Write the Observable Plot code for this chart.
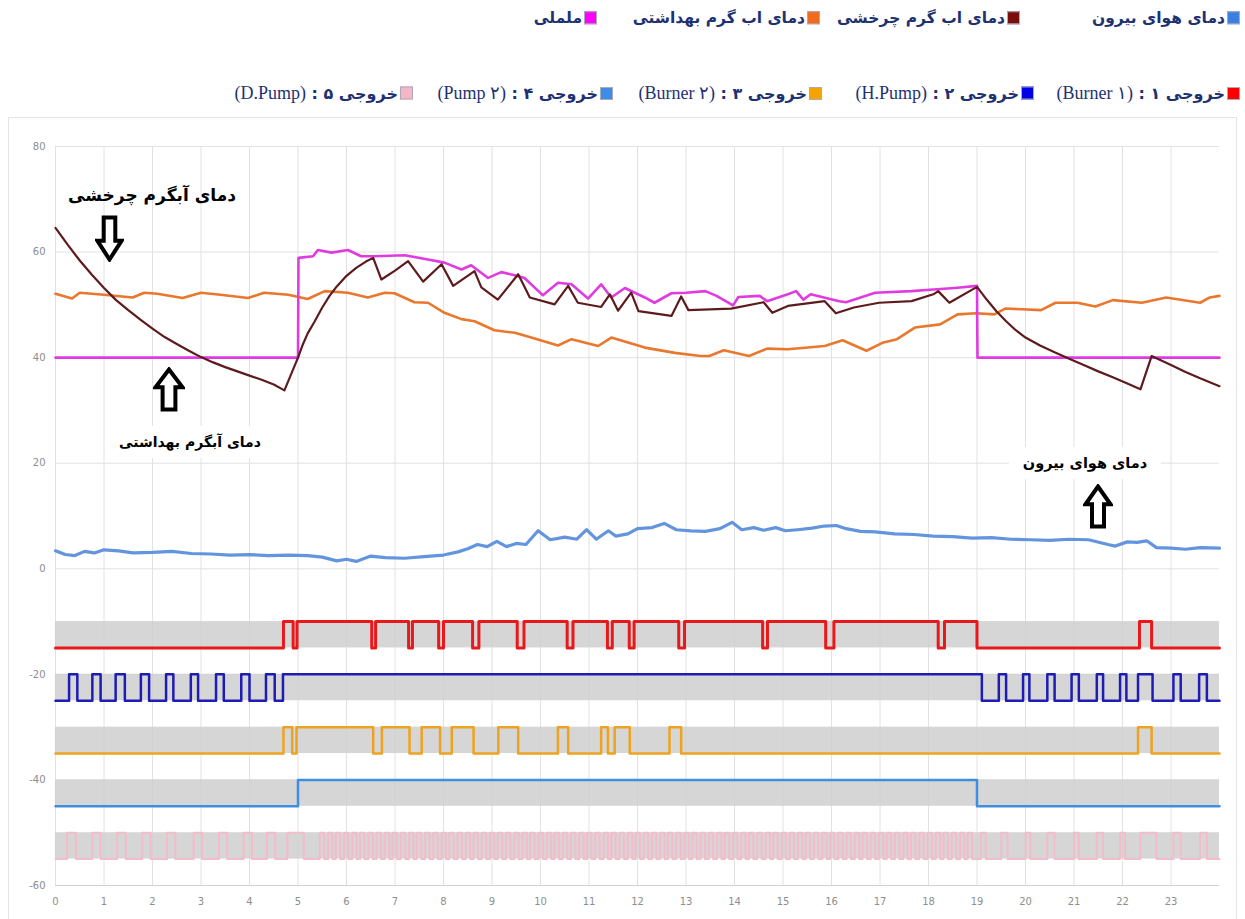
<!DOCTYPE html>
<html>
<head>
<meta charset="utf-8">
<script src="https://cdn.jsdelivr.net/npm/d3@7"></script>
<script src="https://cdn.jsdelivr.net/npm/@observablehq/plot@0.6"></script>
<style>
  html, body { margin: 0; padding: 0; background: #fff; }
  #page { position: relative; width: 1245px; height: 919px; overflow: hidden; background: #fff; }
  #frame { position: absolute; left: 8px; top: 117px; width: 1229px; height: 820px; border: 1px solid #e4e4e4; box-sizing: border-box; }
  #chart { position: absolute; left: 0; top: 118px; }
  .lg { position: absolute; direction: rtl; white-space: nowrap; font: bold 15.5px "DejaVu Sans", sans-serif; color: #1e3272; transform: translateY(-50%); line-height: 1; }
  .lg2 { font-size: 16px; }
  .sq { display: inline-block; width: 11px; height: 11px; border: 1px solid #aab; margin-left: 2px; vertical-align: -1px; }
  .lat { font: 18px "Liberation Serif", "DejaVu Serif", serif; color: #1e3272; direction: ltr; unicode-bidi: isolate; }
  .ann { position: absolute; direction: rtl; white-space: nowrap; font: bold 16px "DejaVu Sans", sans-serif; color: #000; transform: translate(-50%, -50%); }
  .box { background: #fff; padding: 8px 14px; }
  .arrow { position: absolute; }
</style>
</head>
<body>
<div id="page">
  <div id="frame"></div>
  <div id="chart"></div>
</div>
<script>
// ---------- data ----------
const xTicks = [0,1,2,3,4,5,6,7,8,9,10,11,12,13,14,15,16,17,18,19,20,21,22,23];
const yTicks = [80,60,40,20,0,-20,-40,-60];
const xDomain = [0, 24];
const yDomain = [-60, 80];

// outside air temperature (blue)
const outsideTemp = [[0,3.4],[0.2,2.7],[0.4,2.5],[0.6,3.3],[0.8,3.0],[1.0,3.6],[1.3,3.4],[1.6,3.0],[2.0,3.1],[2.4,3.3],[2.8,2.9],[3.2,2.8],[3.6,2.6],[4.0,2.7],[4.4,2.5],[4.8,2.6],[5.2,2.5],[5.5,2.2],[5.8,1.5],[6.0,1.8],[6.2,1.4],[6.5,2.4],[6.8,2.1],[7.2,2.0],[7.6,2.3],[8.0,2.6],[8.3,3.2],[8.5,3.8],[8.7,4.6],[8.9,4.2],[9.1,5.2],[9.3,4.2],[9.5,4.8],[9.7,4.6],[9.95,7.2],[10.2,5.5],[10.5,6.0],[10.75,5.6],[10.95,7.4],[11.15,5.6],[11.4,7.2],[11.55,6.2],[11.8,6.6],[12.0,7.6],[12.3,7.8],[12.55,8.6],[12.8,7.4],[13.1,7.2],[13.4,7.1],[13.7,7.6],[13.95,8.8],[14.15,7.4],[14.4,7.8],[14.6,7.3],[14.85,7.8],[15.05,7.2],[15.3,7.4],[15.6,7.7],[15.85,8.1],[16.1,8.2],[16.3,7.6],[16.6,7.1],[16.9,7.0],[17.3,6.6],[17.7,6.5],[18.1,6.2],[18.5,6.1],[18.9,5.8],[19.3,5.9],[19.7,5.6],[20.1,5.5],[20.5,5.4],[20.9,5.6],[21.3,5.5],[21.7,4.6],[21.85,4.3],[22.1,5.1],[22.3,5.0],[22.5,5.3],[22.7,4.0],[23.0,3.9],[23.3,3.7],[23.6,4.0],[24,3.9]];

// circulating hot water temperature (dark red)
const circTemp = [[0,64.6],[0.25,61.4],[0.5,58.4],[0.75,55.7],[1.0,53.2],[1.25,50.9],[1.5,49.0],[1.75,47.2],[2.0,45.5],[2.25,43.9],[2.5,42.6],[2.75,41.3],[3.0,40.1],[3.25,39.1],[3.5,38.2],[3.75,37.4],[4.0,36.6],[4.25,35.8],[4.5,34.9],[4.72,33.8],[5.0,40.0],[5.1,42.5],[5.2,44.6],[5.34,46.8],[5.5,49.5],[5.65,51.7],[5.8,53.5],[6.0,55.5],[6.2,57.0],[6.4,58.2],[6.55,58.9],[6.72,54.8],[7.0,56.5],[7.27,58.3],[7.58,54.4],[7.96,57.7],[8.2,53.6],[8.64,56.4],[8.78,53.3],[9.12,51.0],[9.54,55.8],[9.78,51.4],[10.29,50.1],[10.57,53.6],[10.77,50.4],[11.25,49.6],[11.43,52.0],[11.6,48.9],[11.87,52.3],[12.02,48.8],[12.7,47.9],[12.9,51.6],[13.05,49.0],[13.93,49.3],[14.6,50.5],[14.78,48.5],[15.1,49.8],[15.86,50.7],[16.09,48.4],[16.46,49.5],[16.98,50.4],[17.65,50.7],[18.1,52.0],[18.2,52.6],[18.43,50.4],[19.0,53.4],[19.2,51.0],[19.4,48.8],[19.6,46.9],[19.8,45.2],[20.0,43.8],[20.3,42.3],[20.6,41.0],[20.9,39.8],[21.2,38.6],[21.5,37.4],[21.8,36.3],[22.1,35.1],[22.37,34.0],[22.6,40.3],[23.0,38.6],[23.3,37.3],[23.6,36.1],[24.0,34.6]];

// sanitary hot water temperature (orange)
const sanitaryTemp = [[0,52.1],[0.34,51.2],[0.5,52.3],[1.0,51.9],[1.59,51.4],[1.83,52.3],[2.1,52.1],[2.62,51.3],[3.0,52.3],[3.4,51.9],[3.97,51.3],[4.3,52.3],[4.8,51.9],[5.2,51.1],[5.55,52.6],[6.03,52.3],[6.44,51.4],[6.79,52.3],[6.99,52.2],[7.4,50.5],[7.68,50.4],[8.02,48.5],[8.37,47.3],[8.64,46.9],[9.05,45.2],[9.47,44.7],[9.81,43.8],[10.36,42.3],[10.64,43.5],[11.19,42.2],[11.46,43.8],[12.15,41.9],[12.77,40.9],[13.3,40.3],[13.48,40.3],[13.78,41.4],[14.3,40.3],[14.67,41.7],[15.1,41.6],[15.86,42.2],[16.23,43.3],[16.72,41.3],[17.05,42.8],[17.35,43.5],[17.72,45.7],[18.24,46.3],[18.6,48.2],[18.98,48.4],[19.36,48.2],[19.58,49.3],[20.32,49.0],[20.62,50.4],[21.07,50.4],[21.44,49.7],[21.8,50.9],[22.4,50.4],[22.9,51.4],[23.6,50.4],[23.8,51.4],[24.0,51.7]];

// magenta series
const magentaTemp = [[0,40],[5.0,40],[5.01,58.9],[5.31,59.2],[5.41,60.4],[5.69,59.9],[6.03,60.4],[6.3,59.2],[6.58,59.2],[7.2,59.4],[7.68,58.6],[8.02,58.0],[8.37,56.7],[8.57,57.5],[8.92,55.1],[9.19,56.2],[9.47,55.6],[9.67,55.1],[10.05,51.8],[10.36,54.2],[10.64,53.9],[10.98,51.2],[11.25,53.9],[11.46,51.4],[11.74,53.2],[12.15,51.4],[12.35,50.4],[12.7,52.2],[13.0,52.3],[13.4,52.6],[13.63,51.7],[13.97,49.9],[14.08,51.5],[14.52,51.7],[14.67,50.7],[15.1,52.0],[15.27,52.6],[15.42,51.0],[15.57,52.0],[16.16,50.7],[16.3,50.5],[16.9,52.3],[17.65,52.6],[18.1,52.9],[18.54,53.2],[19.0,53.6],[19.01,40],[24,40]];

// digital outputs: [on, off] intervals (hours)
const out1Burner1 = [[4.7,4.9],[4.98,6.52],[6.6,7.28],[7.36,7.9],[8.0,8.6],[8.73,9.52],[9.66,10.55],[10.67,11.38],[11.48,11.83],[11.93,12.85],[12.97,14.58],[14.68,15.88],[16.05,18.2],[18.33,19.0],[22.35,22.6]];
const out2HPump = [[0.28,0.45],[0.76,0.93],[1.24,1.43],[1.76,1.93],[2.28,2.43],[2.79,2.94],[3.31,3.47],[3.83,4.0],[4.34,4.52],[4.69,19.1],[19.45,19.6],[19.95,20.08],[20.45,20.6],[20.95,21.1],[21.47,21.6],[21.95,22.08],[22.32,22.62],[23.05,23.2],[23.58,23.74]];
const out3Burner2 = [[4.7,4.88],[4.97,6.55],[6.73,7.3],[7.55,7.93],[8.17,8.62],[9.13,9.54],[10.36,10.57],[11.25,11.39],[11.53,11.84],[12.66,12.9],[22.32,22.6]];
const out4Pump2 = [[5.0,19.0]];
const out5DPump = [[0.24,0.42],[0.76,0.93],[1.27,1.45],[1.79,1.96],[2.3,2.47],[2.85,3.02],[3.37,3.54],[3.88,4.05],[4.36,4.53],[4.78,5.12],
 [5.45,5.54],[5.62,5.71],[5.78,5.87],[5.95,6.04],[6.12,6.21],[6.28,6.37],[6.45,6.54],[6.62,6.71],[6.79,6.88],[6.95,7.04],[7.12,7.21],[7.29,7.38],[7.45,7.54],[7.62,7.71],[7.79,7.88],[7.96,8.05],[8.12,8.21],[8.29,8.38],[8.46,8.55],[8.62,8.71],[8.79,8.88],[8.96,9.05],[9.12,9.21],[9.29,9.38],[9.46,9.55],[9.63,9.72],[9.79,9.88],[9.96,10.05],[10.13,10.22],[10.29,10.38],[10.46,10.55],[10.63,10.72],[10.80,10.89],[10.96,11.05],[11.13,11.22],[11.30,11.39],[11.46,11.55],[11.63,11.72],[11.80,11.89],[11.96,12.05],[12.13,12.22],[12.30,12.39],[12.47,12.56],[12.63,12.72],[12.80,12.89],[12.97,13.06],[13.13,13.22],[13.30,13.39],[13.47,13.56],[13.64,13.73],[13.80,13.89],[13.97,14.06],[14.14,14.23],[14.30,14.39],[14.47,14.56],[14.64,14.73],[14.80,14.89],[14.97,15.06],[15.14,15.23],[15.31,15.40],[15.47,15.56],[15.64,15.73],[15.81,15.90],[15.97,16.06],[16.14,16.23],[16.31,16.40],[16.48,16.57],[16.64,16.73],[16.81,16.90],[16.98,17.07],[17.14,17.23],[17.31,17.40],[17.48,17.57],[17.64,17.73],[17.81,17.90],[17.98,18.07],[18.15,18.24],[18.31,18.40],[18.48,18.57],[18.65,18.74],[18.81,18.90],
 [19.08,19.18],[19.5,19.63],[20.0,20.1],[20.45,20.6],[21.0,21.1],[21.47,21.6],[21.95,22.05],[22.37,22.7],[23.05,23.2],[23.6,23.74]];
const channelLow  = [-15, -25, -35, -45, -55];
const channelHigh = [-10, -20, -30, -40, -50];

// legend
const tempLabels = ["دمای هوای بیرون", "دمای اب گرم چرخشی", "دمای اب گرم بهداشتی", "ململی"];
const tempColors = ["#3b7fe0", "#7a0e0e", "#f26a1b", "#ff00ff"];
const outputLabels = ["خروجی ۱", "خروجی ۲", "خروجی ۳", "خروجی ۴", "خروجی ۵"];
const outputDevices = ["(Burner ۱)", "(H.Pump)", "(Burner ۲)", "(Pump ۲)", "(D.Pump)"];
const outputColors = ["#ff0000", "#0000e6", "#f5a300", "#3b8fe6", "#f7b6c6"];

// annotations
const annotationTexts = ["دمای آبگرم چرخشی", "دمای آبگرم بهداشتی", "دمای هوای بیرون"];

// ---------- build ----------
const toPts = arr => arr.map(([x, y]) => ({x, y}));
function steps(intervals, lo, hi) {
  const pts = [{x: xDomain[0], y: lo}];
  for (const [a, b] of intervals) { pts.push({x: a, y: hi}); pts.push({x: b, y: lo}); }
  pts.push({x: xDomain[1], y: lo});
  return pts;
}
const channels = [out1Burner1, out2HPump, out3Burner2, out4Pump2, out5DPump];
const lineColors = ["#e8191c", "#1d1db5", "#eea320", "#3f8fe0", "#f4bccb"];
const bands = channelLow.map((lo, i) => ({x1: xDomain[0], x2: xDomain[1], y1: lo, y2: channelHigh[i]}));

const marks = [
  Plot.ruleX(xTicks, {stroke: "#e2e2e2", y1: yDomain[0], y2: yDomain[1]}),
  Plot.ruleY(yTicks, {stroke: "#e2e2e2", x1: xDomain[0], x2: xDomain[1]}),
  Plot.ruleY([yDomain[0]], {stroke: "#d2d2d2", x1: xDomain[0], x2: xDomain[1]}),
  Plot.rect(bands, {x1: "x1", x2: "x2", y1: "y1", y2: "y2", fill: "#cfcfcf", fillOpacity: 0.85})
];
channels.forEach((iv, i) => {
  marks.push(Plot.line(steps(iv, channelLow[i], channelHigh[i]), {
    x: "x", y: "y", curve: "step-after", stroke: lineColors[i],
    strokeWidth: i === 0 ? 3 : (i === 4 ? 2 : 2.5), strokeLinejoin: "round"
  }));
});
marks.push(
  Plot.line(toPts(outsideTemp), {x: "x", y: "y", stroke: "#5b8fdc", strokeWidth: 3.2, strokeOpacity: 0.95}),
  Plot.line(toPts(sanitaryTemp), {x: "x", y: "y", stroke: "#e9772e", strokeWidth: 2.6}),
  Plot.line(toPts(magentaTemp), {x: "x", y: "y", stroke: "#e03be0", strokeWidth: 2.6}),
  Plot.line(toPts(circTemp), {x: "x", y: "y", stroke: "#5e1b1e", strokeWidth: 2.2})
);

const chart = Plot.plot({
  width: 1245, height: 801,
  marginLeft: 55, marginRight: 26, marginTop: 28, marginBottom: 34,
  x: {domain: xDomain, ticks: xTicks, tickSize: 0, tickPadding: 12, label: null, tickFormat: d => String(d)},
  y: {domain: yDomain, ticks: yTicks, tickSize: 0, tickPadding: 10, label: null, tickFormat: d => String(d)},
  style: {fontFamily: "DejaVu Sans, sans-serif", fontSize: "10px", color: "#8e8e8e", background: "transparent", overflow: "visible"},
  marks
});
document.getElementById("chart").appendChild(chart);

// legend layout
const page = document.getElementById("page");
const row1Right = [1240, 1020, 820, 597];
const row2Right = [1240, 1034, 822, 613, 413];
tempLabels.forEach((t, i) => {
  const d = document.createElement("div");
  d.className = "lg";
  d.style.right = (1245 - row1Right[i]) + "px";
  d.style.top = "19px";
  d.innerHTML = `<span class="sq" style="background:${tempColors[i]}"></span>${t}`;
  page.appendChild(d);
});
outputLabels.forEach((t, i) => {
  const d = document.createElement("div");
  d.className = "lg lg2";
  d.style.right = (1245 - row2Right[i]) + "px";
  d.style.top = "93px";
  d.innerHTML = `<span class="sq" style="background:${outputColors[i]}"></span>${t} : <bdi dir="ltr" class="lat">${outputDevices[i]}</bdi>`;
  page.appendChild(d);
});

// annotations
const annPos = [[152, 195, 17, false], [190, 442, 14, true], [1085, 463, 14.5, true]];
annotationTexts.forEach((t, i) => {
  const [x, y, fs, box] = annPos[i];
  const d = document.createElement("div");
  d.className = "ann" + (box ? " box" : "");
  d.style.left = x + "px"; d.style.top = y + "px"; d.style.fontSize = fs + "px";
  d.textContent = t;
  page.appendChild(d);
});
function arrow(left, top, w, h, down) {
  const ns = "http://www.w3.org/2000/svg";
  const s = document.createElementNS(ns, "svg");
  s.setAttribute("class", "arrow");
  s.setAttribute("width", w); s.setAttribute("height", h);
  s.style.left = left + "px"; s.style.top = top + "px";
  const p = document.createElementNS(ns, "polygon");
  const m = 2.5, hw = w / 2, head = h * 0.45, sh = w * 0.2;
  let pts = [[hw, m], [w - m, head], [hw + sh, head], [hw + sh, h - m], [hw - sh, h - m], [hw - sh, head], [m, head]];
  if (down) pts = pts.map(([a, b]) => [a, h - b]);
  p.setAttribute("points", pts.map(q => q.join(",")).join(" "));
  p.setAttribute("fill", "#fff"); p.setAttribute("stroke", "#000");
  p.setAttribute("stroke-width", "4"); p.setAttribute("stroke-linejoin", "miter");
  s.appendChild(p);
  page.appendChild(s);
}
arrow(95, 215, 29, 47, true);
arrow(153, 367, 32, 45, false);
arrow(1083, 484, 30, 45, false);
</script>
</body>
</html>
